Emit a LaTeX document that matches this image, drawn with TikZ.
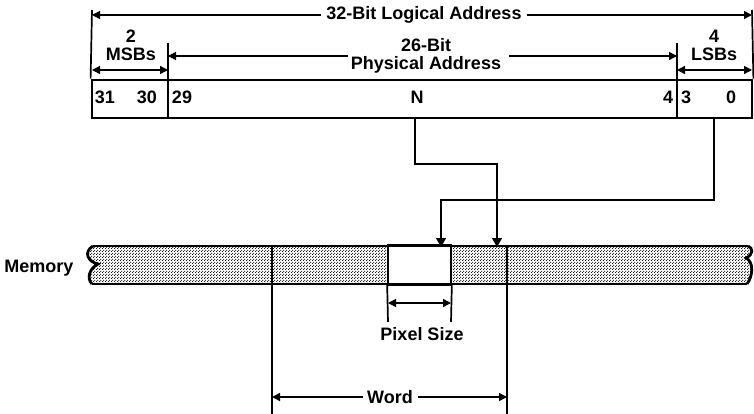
\documentclass[tikz,border=0pt]{standalone}
\usepackage{fontspec}
\setmainfont{Liberation Sans}
\usetikzlibrary{arrows.meta,patterns}
\pgfdeclarepatternformonly{memdots}{\pgfpointorigin}{\pgfpoint{3pt}{3pt}}{\pgfpoint{3pt}{3pt}}{%
  \pgfpathcircle{\pgfpoint{0.75pt}{0.75pt}}{0.75pt}%
  \pgfpathcircle{\pgfpoint{2.25pt}{2.25pt}}{0.75pt}%
  \pgfusepath{fill}}
\begin{document}
\begin{tikzpicture}[x=1pt,y=-1pt,
  lbl/.style={font=\fontsize{18}{18}\selectfont\bfseries, inner sep=0pt, align=center},
  thk/.style={line width=2.8pt},
  med/.style={line width=1.7pt},
  thn/.style={line width=1.4pt},
  tip/.style={-{Triangle[length=9pt,width=10pt]}},
  dtip/.style={-{Triangle[length=8pt,width=8pt]}},
  dim/.style={thn,{Triangle[length=8pt,width=8pt]}-{Triangle[length=8pt,width=8pt]}},
  regbox/.style={draw, thk, minimum width=660pt, minimum height=38pt, inner sep=0pt},
]
\useasboundingbox (0,0) rectangle (754,414);

% ---------- register ----------
\node[regbox] (reg) at (422,99) {};
\coordinate (t0) at (92,10);
\coordinate (t1) at (752,10);
\coordinate (d1) at (168,43);
\coordinate (d2) at (677,43);
\draw[med] (t0) -- (reg.north west);
\draw[med] (t1) -- (reg.north east);
\draw[med] (d1) -- (reg.south -| d1);
\draw[med] (d2) -- (reg.south -| d2);

% top dimension
\node[lbl] (la) at (424,15) {32-Bit Logical Address};
\coordinate (la0) at (92,15);
\coordinate (la1) at (752,15);
\draw[thn,dtip] ([xshift=-5pt]la.west) -- (la0);
\draw[thn,dtip] ([xshift=5pt]la.east) -- (la1);

% MSBs
\node[lbl] (msb) at (131,45) {2\\MSBs};
\coordinate (m0) at (92,70);
\coordinate (m1) at (168,70);
\draw[dim] (m0) -- (m1);

% physical address
\node[lbl] (pa) at (426,56) {26-Bit\\Physical Address};
\coordinate (p0) at (168,56);
\coordinate (p1) at (677,56);
\draw[thn,dtip] ([xshift=-3pt]pa.west) -- (p0);
\draw[thn,dtip] ([xshift=8pt]pa.east) -- (p1);

% LSBs
\node[lbl] (lsb) at (714,45) {4\\LSBs};
\coordinate (l0) at (677,70);
\coordinate (l1) at (752,70);
\draw[dim] (l0) -- (l1);

% bit numbers
\node[lbl] (b31) at (105,97) {31};
\node[lbl] (b30) at (147,97) {30};
\node[lbl] (b29) at (182,97) {29};
\node[lbl] (bN)  at (417,97) {N};
\node[lbl] (b4)  at (668,97) {4};
\node[lbl] (b3)  at (686,97) {3};
\node[lbl] (b0)  at (731,97) {0};

% ---------- memory ----------
\node[lbl] (mem) at (39,268) {Memory};
\path[pattern=memdots]
  (93,246) -- (748,246)
  .. controls (753,248) and (754,254) .. (746,258)
  .. controls (754,262) and (753,276) .. (747,284)
  -- (92,284)
  .. controls (86,278) and (90,268) .. (98,264)
  .. controls (88,262) and (83,252) .. (93,246) -- cycle;
\draw[thk] (93,246) -- (748,246);
\draw[thk] (92,284) -- (747,284);
\draw[thk] (748,246)
  .. controls (753,248) and (754,254) .. (746,258)
  .. controls (754,262) and (753,276) .. (747,284);
\draw[thk] (92,284)
  .. controls (86,278) and (90,268) .. (98,264)
  .. controls (88,262) and (83,252) .. (93,246);

% pixel cell
\node[draw, med, fill=white, minimum width=63pt, minimum height=38pt, inner sep=0pt] (pix) at (419.5,265) {};
\draw[thk] (pix.north west) -- (pix.north east);
\draw[thk] (pix.south west) -- (pix.south east);

% word boundaries
\coordinate (w0t) at (272,246);
\coordinate (w1t) at (507,246);
\coordinate (w0b) at (272,414);
\coordinate (w1b) at (507,414);
\draw[med] (w0t) -- (w0b);
\draw[med] (w1t) -- (w1b);

% pixel size dimension
\coordinate (ps0) at (388,322);
\coordinate (ps1) at (451,322);
\draw[med] (pix.south west) -- (ps0);
\draw[med] (pix.south east) -- (ps1);
\coordinate (pa0) at (388,303);
\coordinate (pa1) at (451,303);
\draw[dim] (pa0) -- (pa1);
\node[lbl] (psz) at (422,334) {Pixel Size};

% word dimension
\node[lbl] (wd) at (390,397) {Word};
\coordinate (wa0) at (272,397);
\coordinate (wa1) at (507,397);
\draw[thn,dtip] ([xshift=-4pt]wd.west) -- (wa0);
\draw[thn,dtip] ([xshift=5pt]wd.east) -- (wa1);

% ---------- connectors ----------
\coordinate (c1a) at (415,164);
\coordinate (c1b) at (497,164);
\coordinate (c1c) at (497,246);
\draw[thn,tip] (reg.south -| c1a) -- (c1a) -- (c1b) -- ([yshift=-1pt]c1c);
\coordinate (c2a) at (714,200);
\coordinate (c2b) at (441,200);
\coordinate (c2c) at (441,246);
\draw[thn,tip] (reg.south -| c2a) -- (c2a) -- (c2b) -- ([yshift=-1pt]c2c);
\end{tikzpicture}
\end{document}
